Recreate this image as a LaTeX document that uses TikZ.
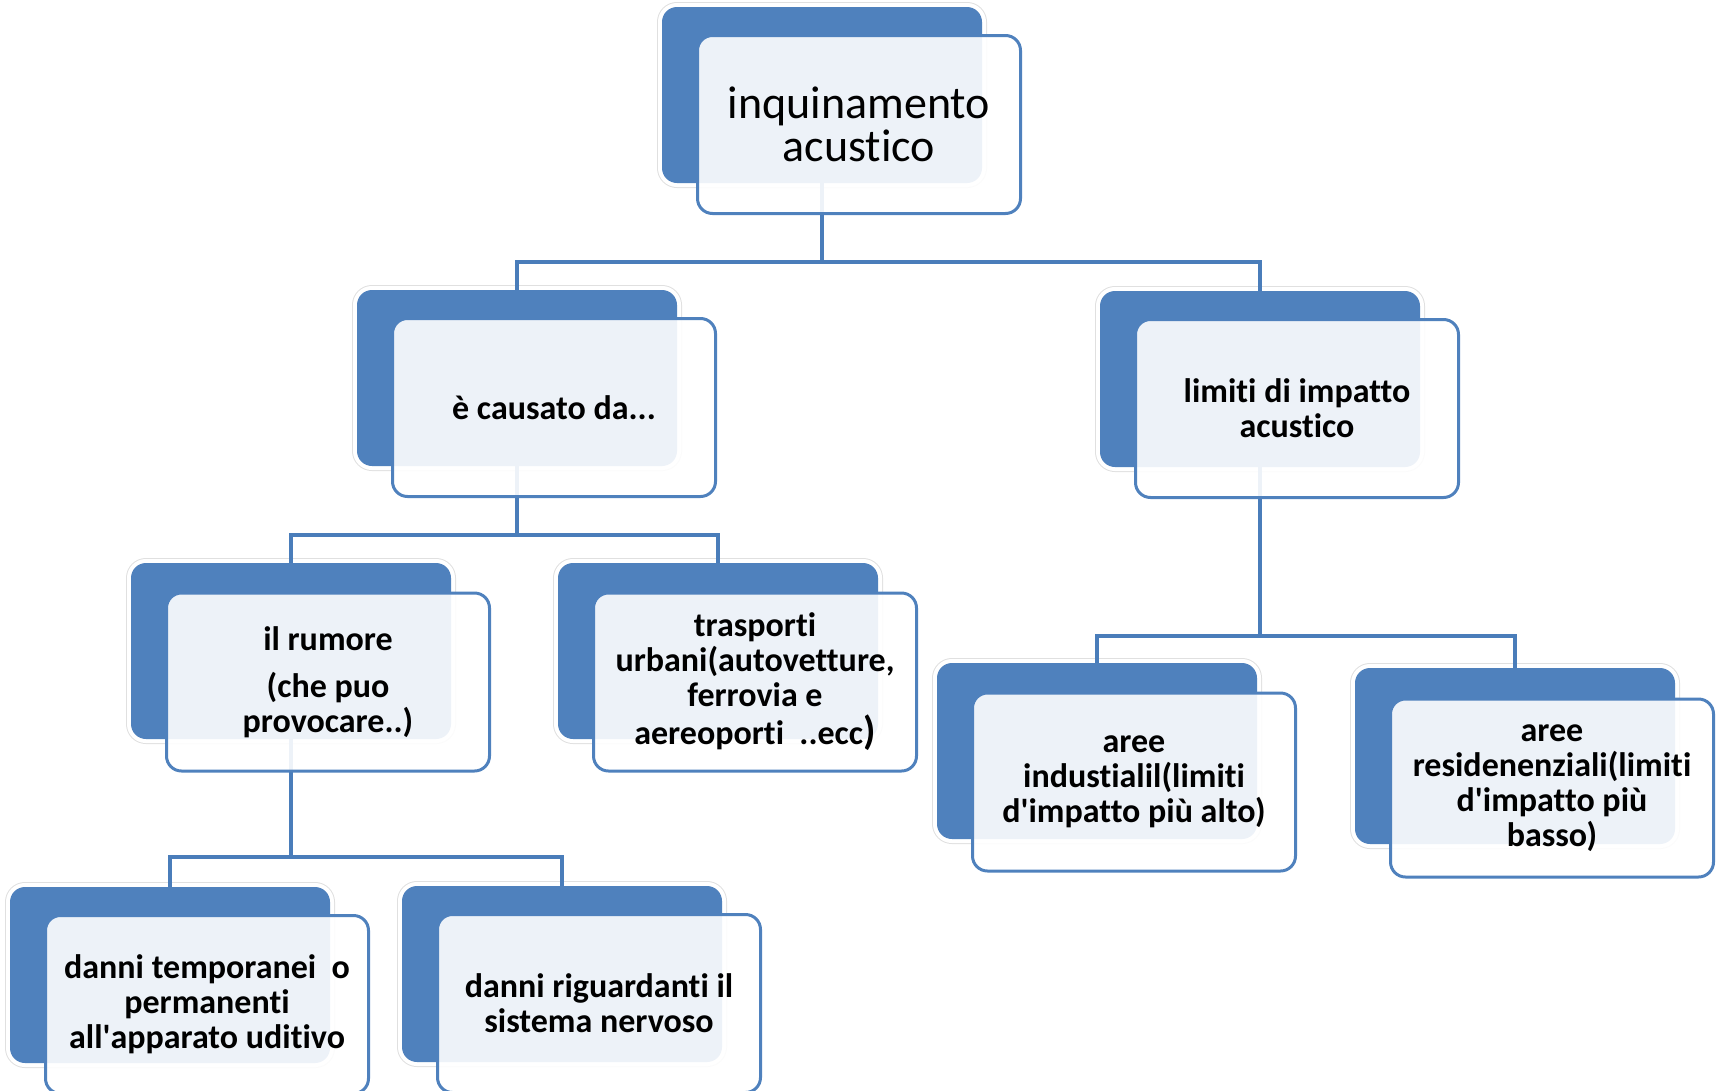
\documentclass[tikz,border=0pt]{standalone}
\usepackage{fontspec}
\setmainfont{Carlito}[Ligatures={TeX,NoCommon}]
\definecolor{accent}{HTML}{4F81BD}
\definecolor{lineblue}{HTML}{4A7DBA}
\tikzset{
  bluebox/.style={rectangle, rounded corners=15pt, fill=accent, minimum width=320pt, minimum height=176pt, inner sep=0pt,
    preaction={draw=black!12, line width=10pt}, preaction={draw=white, line width=8pt}},
  lightbox/.style={rectangle, rounded corners=15pt, draw=accent, line width=3pt, fill=white, fill opacity=0.9, text opacity=1,
    minimum width=323pt, minimum height=178pt, inner sep=0pt, align=center, font=\fontsize{34}{35}\selectfont\bfseries},
  titlefont/.style={font=\fontsize{46}{43}\selectfont},
  conn/.style={draw=lineblue, line width=3.5pt},
}
\begin{document}
\begin{tikzpicture}[x=1pt,y=-1pt]
\useasboundingbox (0,0) rectangle (1719,1090);
% junction points
\coordinate (j0) at (822,262);
\coordinate (j1) at (517,535);
\coordinate (j2) at (1260,636);
\coordinate (j3) at (291,857);
% blue boxes
\node[bluebox] (b0) at (822,95) {};
\node[bluebox] (b1) at (517,378) {};
\node[bluebox] (b2) at (1260,379) {};
\node[bluebox] (b3) at (291,651) {};
\node[bluebox] (b4) at (718,651) {};
\node[bluebox] (b5) at (1097,751) {};
\node[bluebox] (b6) at (1515,756) {};
\node[bluebox] (b7) at (170,975) {};
\node[bluebox] (b8) at (562,974) {};
% connectors
\draw[conn] (b0.south) -- (j0) -| (b1.north);
\draw[conn] (j0) -| (b2.north);
\draw[conn] (b1.south) -- (j1) -| (b3.north);
\draw[conn] (j1) -| (b4.north);
\draw[conn] (b2.south) -- (j2) -| (b5.north);
\draw[conn] (j2) -| (b6.north);
\draw[conn] (b3.south) -- (j3) -| (b7.north);
\draw[conn] (j3) -| (b8.north);
% light boxes with text
\node[lightbox, titlefont] (l0) at (859,124.5) {inquinamento\\acustico};
\node[lightbox] (l1) at (554,407.5) {è causato da...};
\node[lightbox] (l2) at (1297,408.5) {limiti di impatto\\acustico};
\node[lightbox] (l3) at (328,682) {il rumore\\[12pt](che puo\\provocare..)};
\node[lightbox] (l4) at (755,682) {trasporti\\urbani(autovetture,\\ferrovia e\\[3pt]aereoporti\ \ ..ecc{\fontsize{40}{40}\selectfont)}};
\node[lightbox] (l5) at (1134,782) {aree\\industialil(limiti\\d\textquotesingle impatto più alto)};
\node[lightbox] (l6) at (1552,788) {aree\\residenenziali(limiti\\d\textquotesingle impatto più\\basso)};
\node[lightbox] (l7) at (207,1004.5) {danni temporanei\ \ o\\permanenti\\all\textquotesingle apparato uditivo};
\node[lightbox] (l8) at (599,1003.5) {danni riguardanti il\\sistema nervoso};
\end{tikzpicture}
\end{document}
